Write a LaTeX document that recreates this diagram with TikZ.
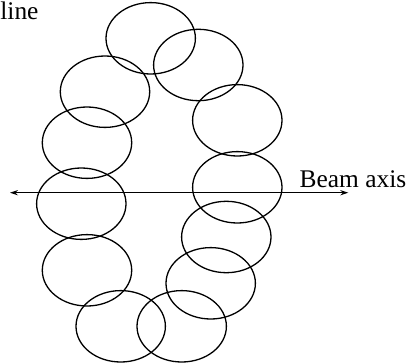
\documentclass[tikz,border=0pt]{standalone}
\usepackage{fontspec}
\setmainfont{Liberation Serif}
\usetikzlibrary{arrows.meta, shapes.geometric}

\begin{document}
\begin{tikzpicture}[
    x=0.5pt, y=-0.5pt,
    >={Stealth[length=4pt, width=2.6pt]},
    font=\fontsize{12.7}{15}\selectfont,
    beamring/.style={draw, ellipse, line width=0.65pt, inner sep=0pt, minimum width=44.7pt, minimum height=35.7pt},
    beamlabel/.style={inner sep=0pt, anchor=base west},
    beamaxis/.style={<->, line width=0.6pt}
]
\useasboundingbox (0,0) rectangle (407,364);

\node[beamring] (r1) at (150.7,38.3) {};
\node[beamring] (r2) at (198.3,65) {};
\node[beamring] (r3) at (237.3,120.3) {};
\node[beamring] (r4) at (237.3,187.3) {};
\node[beamring] (r5) at (226.3,237) {};
\node[beamring] (r6) at (210.7,283.3) {};
\node[beamring] (r7) at (181.7,326.3) {};
\node[beamring] (r8) at (120.7,326.3) {};
\node[beamring] (r9) at (87,270.3) {};
\node[beamring] (r10) at (81.3,203.7) {};
\node[beamring] (r11) at (87,142.7) {};
\node[beamring] (r12) at (105,91.7) {};

\node[beamlabel] (lline) at (0,19.5) {line};
\node[beamlabel] (laxis) at (299.3,187) {Beam axis};

\coordinate (axl) at (10,192.7);
\coordinate (axr) at (348.3,192.7);
\draw[beamaxis] (axl) -- (axr);

\end{tikzpicture}
\end{document}
